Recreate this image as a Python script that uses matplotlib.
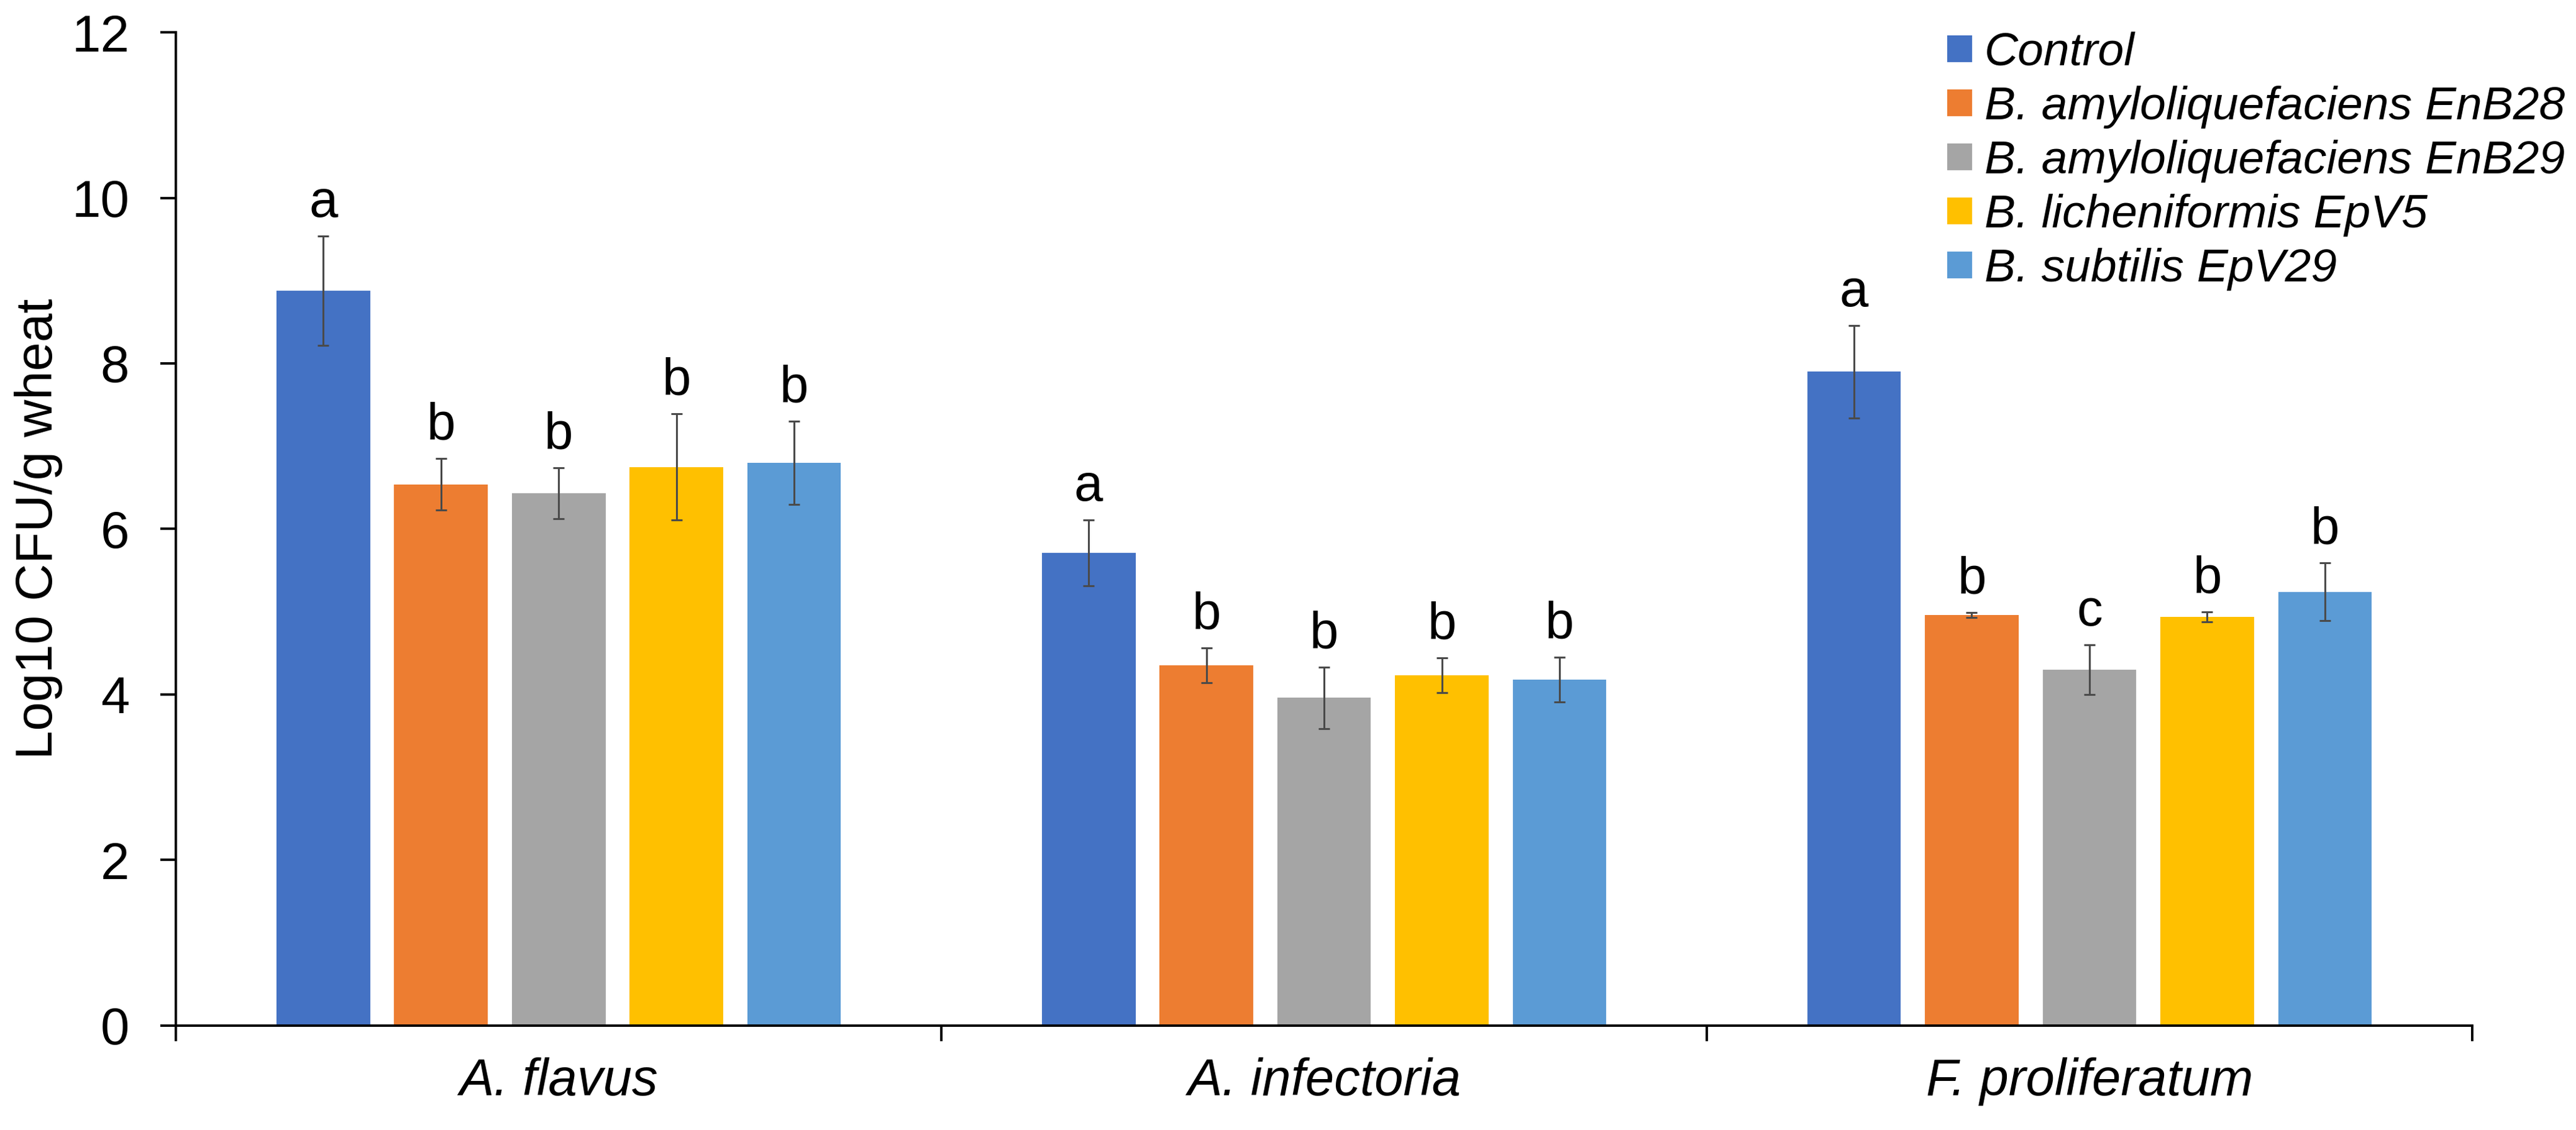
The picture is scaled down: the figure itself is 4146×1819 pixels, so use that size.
import numpy as np
import matplotlib
matplotlib.use("Agg")
import matplotlib.pyplot as plt

plt.rcParams['font.family'] = ['Liberation Sans', 'DejaVu Sans']

categories = ["A. flavus", "A. infectoria", "F. proliferatum"]
series = ["Control", "B. amyloliquefaciens EnB28", "B. amyloliquefaciens EnB29",
          "B. licheniformis EpV5", "B. subtilis EpV29"]
colors = ["#4472C4", "#ED7D31", "#A5A5A5", "#FFC000", "#5B9BD5"]

control = [8.88, 5.71, 7.90]
enb28 = [6.54, 4.35, 4.96]
enb29 = [6.43, 3.96, 4.30]
epv5 = [6.75, 4.23, 4.94]
epv29 = [6.80, 4.18, 5.24]

control_err = [0.66, 0.40, 0.56]
enb28_err = [0.31, 0.21, 0.03]
enb29_err = [0.31, 0.37, 0.30]
epv5_err = [0.64, 0.21, 0.06]
epv29_err = [0.50, 0.27, 0.35]

control_lbl = ["a", "a", "a"]
enb28_lbl = ["b", "b", "b"]
enb29_lbl = ["b", "b", "c"]
epv5_lbl = ["b", "b", "b"]
epv29_lbl = ["b", "b", "b"]

values = [control, enb28, enb29, epv5, epv29]
errors = [control_err, enb28_err, enb29_err, epv5_err, epv29_err]
letters = [control_lbl, enb28_lbl, enb29_lbl, epv5_lbl, epv29_lbl]

fig = plt.figure(figsize=(20.73, 9.095), dpi=200)
ax = fig.add_axes([0.0683, 0.0924, 0.9597 - 0.0683, 0.9714 - 0.0924])

x = np.arange(len(categories))
pitch = 0.1538
width = 0.1224
for i, (vals, errs, lbls) in enumerate(zip(values, errors, letters)):
    pos = x + (i - 2) * pitch
    ax.bar(pos, vals, width=width, color=colors[i], label=series[i], zorder=2)
    ax.errorbar(pos, vals, yerr=errs, fmt='none', ecolor='#4a4a4a',
                elinewidth=1.1, capsize=3.4, capthick=1.1, zorder=3)
    for p, v, e, t in zip(pos, vals, errs, lbls):
        ax.annotate(t, xy=(p, v + e), xytext=(0, 11), textcoords='offset points',
                    ha='center', va='baseline', fontsize=30)

ax.set_xlim(-0.5, 2.5)
ax.set_ylim(0, 12)
ax.set_yticks(np.arange(0, 13, 2))
ax.tick_params(axis='y', labelsize=30, length=9, width=1.4, direction='out', pad=18)

ax.set_xticks([-0.5, 0.5, 1.5, 2.5])
ax.set_xticklabels([])
ax.tick_params(axis='x', which='major', length=9, width=1.4, direction='out')
ax.set_xticks(x, minor=True)
ax.set_xticklabels(categories, minor=True, fontsize=30, style='italic')
ax.tick_params(axis='x', which='minor', length=0, pad=18.5)

for s in ['top', 'right']:
    ax.spines[s].set_visible(False)
for s in ['left', 'bottom']:
    ax.spines[s].set_linewidth(1.4)
    ax.spines[s].set_color('black')

ax.set_ylabel("Log10 CFU/g wheat", fontsize=30)
ax.yaxis.set_label_coords(-0.0494, 0.5)

leg = fig.legend(loc='upper left', bbox_to_anchor=(0.7559, 0.972), frameon=False,
                 prop={'size': 27, 'style': 'italic'}, handlelength=0.53,
                 handleheight=0.5, handletextpad=0.27, labelspacing=0.24,
                 borderpad=0, borderaxespad=0)

fig.savefig("out.png", dpi=200)
